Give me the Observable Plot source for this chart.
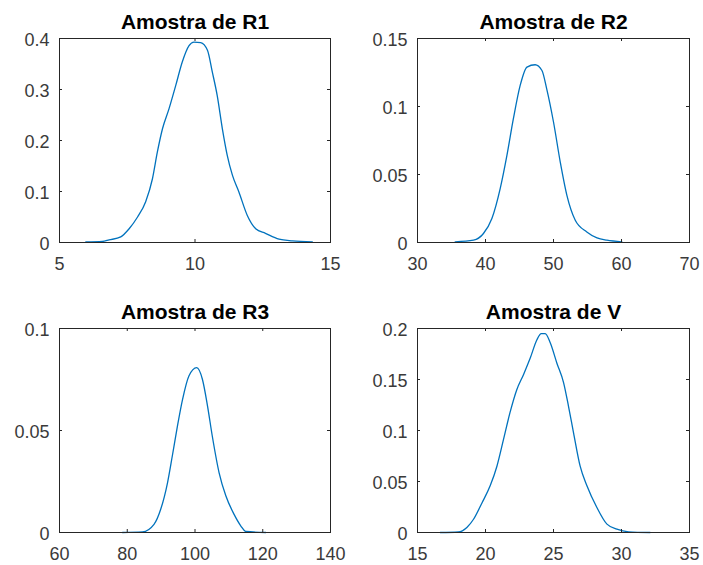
<!DOCTYPE html>
<html>
<head>
<meta charset="utf-8">
<script src="https://cdn.jsdelivr.net/npm/d3@7"></script>
<script src="https://cdn.jsdelivr.net/npm/@observablehq/plot@0.6"></script>
<style>
  html, body { margin: 0; padding: 0; background: #fff; }
  #wrap { position: relative; width: 703px; height: 565px; overflow: hidden; background: #fff; }
  #wrap > svg { position: absolute; }
</style>
</head>
<body>
<div id="wrap"></div>
<script>
// ---- Data ----
const titles = ["Amostra de R1", "Amostra de R2", "Amostra de R3", "Amostra de V"];

const r1X = [5.97, 6.58, 6.83, 7.26, 7.57, 7.88, 8.18, 8.43, 8.61, 8.80, 9.04, 9.29, 9.53, 9.78, 9.96, 10.21, 10.46, 10.64, 10.82, 11.01, 11.19, 11.38, 11.62, 11.93, 12.24, 12.60, 13.10, 13.59, 14.33];
const r1Y = [0.001, 0.002, 0.005, 0.011, 0.027, 0.050, 0.080, 0.125, 0.177, 0.223, 0.262, 0.308, 0.354, 0.386, 0.393, 0.392, 0.377, 0.334, 0.288, 0.223, 0.171, 0.132, 0.099, 0.053, 0.027, 0.018, 0.0065, 0.003, 0.001];

const r2X = [35.54, 38.24, 39.7, 40.94, 42.16, 43.15, 44.1, 45.1, 46.1, 47.3, 48.3, 49.0, 50.0, 51.0, 51.97, 53.2, 54.9, 56.4, 57.85, 60.06];
const r2Y = [0.0005, 0.0017, 0.0066, 0.0176, 0.0396, 0.064, 0.091, 0.1155, 0.129, 0.1307, 0.1265, 0.113, 0.0886, 0.059, 0.0347, 0.0164, 0.0078, 0.0034, 0.0017, 0.0005];

const r3X = [78.6, 84.5, 87.9, 89.9, 91.9, 93.3, 94.8, 96.3, 98.2, 100.5, 102.2, 103.7, 105.1, 107.1, 109.1, 111.5, 113.5, 115.0, 120.9];
const r3Y = [0.0, 0.0003, 0.004, 0.0115, 0.0245, 0.0375, 0.052, 0.065, 0.0767, 0.0808, 0.075, 0.062, 0.0473, 0.0294, 0.018, 0.009, 0.0033, 0.0005, 0.0];

const vX = [16.67, 18.0, 18.63, 19.12, 19.74, 20.35, 20.84, 21.32, 21.8, 22.3, 22.8, 23.29, 23.78, 24.1, 24.39, 24.76, 25.25, 25.74, 26.1, 26.47, 26.96, 27.45, 28.19, 28.93, 29.66, 30.52, 32.1];
const vY = [0.0, 0.0005, 0.005, 0.013, 0.029, 0.046, 0.065, 0.091, 0.1175, 0.140, 0.155, 0.171, 0.189, 0.195, 0.195, 0.186, 0.166, 0.147, 0.124, 0.098, 0.065, 0.046, 0.0245, 0.0082, 0.0033, 0.0007, 0.0];

const r1XTicks = [5, 10, 15];
const r1YTicks = [0, 0.1, 0.2, 0.3, 0.4];
const r2XTicks = [30, 40, 50, 60, 70];
const r2YTicks = [0, 0.05, 0.1, 0.15];
const r3XTicks = [60, 80, 100, 120, 140];
const r3YTicks = [0, 0.05, 0.1];
const vXTicks = [15, 20, 25, 30, 35];
const vYTicks = [0, 0.05, 0.1, 0.15, 0.2];

// ---- Layout (panel boxes in page pixels) ----
const panels = [
  {title: titles[0], xs: r1X, ys: r1Y, xt: r1XTicks, yt: r1YTicks, left: 0,   top: 0,   w: 351, h: 285, fl: 59,  ft: 38,  fr: 330, fb: 242},
  {title: titles[1], xs: r2X, ys: r2Y, xt: r2XTicks, yt: r2YTicks, left: 351, top: 0,   w: 352, h: 285, fl: 417, ft: 38,  fr: 689, fb: 242},
  {title: titles[2], xs: r3X, ys: r3Y, xt: r3XTicks, yt: r3YTicks, left: 0,   top: 285, w: 351, h: 280, fl: 59,  ft: 328, fr: 330, fb: 532},
  {title: titles[3], xs: vX,  ys: vY,  xt: vXTicks,  yt: vYTicks,  left: 351, top: 285, w: 352, h: 280, fl: 417, ft: 328, fr: 689, fb: 532}
];

const ink = "#262626";
const lineColor = "#0072BD";
const tickLen = 3;
const wrap = document.getElementById("wrap");

for (const p of panels) {
  const marginLeft = p.fl - p.left;
  const marginRight = p.left + p.w - p.fr;
  const marginTop = p.ft - p.top;
  const marginBottom = p.top + p.h - p.fb;
  const fw = p.fr - p.fl;
  const fh = p.fb - p.ft;
  const data = p.xs.map((x, i) => ({x, y: p.ys[i]}));
  const chart = Plot.plot({
    width: p.w,
    height: p.h,
    marginLeft, marginRight, marginTop, marginBottom,
    style: {fontFamily: "'Liberation Sans', Arial, Helvetica, sans-serif", fontSize: "18px", color: ink, background: "transparent"},
    x: {domain: [p.xt[0], p.xt[p.xt.length - 1]], axis: null},
    y: {domain: [p.yt[0], p.yt[p.yt.length - 1]], axis: null},
    marks: [
      Plot.line(data, {x: "x", y: "y", stroke: lineColor, strokeWidth: 1.3, curve: "monotone-x"}),
      Plot.frame({stroke: ink, strokeWidth: 1}),
      Plot.tickX(p.xt, {x: d => d, stroke: ink, insetTop: fh - tickLen}),
      Plot.tickX(p.xt, {x: d => d, stroke: ink, insetBottom: fh - tickLen}),
      Plot.tickY(p.yt, {y: d => d, stroke: ink, insetRight: fw - tickLen}),
      Plot.tickY(p.yt, {y: d => d, stroke: ink, insetLeft: fw - tickLen}),
      Plot.axisX(p.xt, {anchor: "bottom", tickSize: 0, tickPadding: 15, tickFormat: d => String(d), label: null, fill: "#3a3a3a"}),
      Plot.axisY(p.yt, {anchor: "left", tickSize: 0, tickPadding: 10, dy: 2, tickFormat: d => String(d), label: null, fill: "#3a3a3a"}),
      Plot.text([p.title], {frameAnchor: "top", dy: -10, lineAnchor: "bottom", text: d => d, fontSize: 21, fontWeight: "bold", fill: "#000"})
    ]
  });
  chart.style.left = p.left + "px";
  chart.style.top = p.top + "px";
  wrap.appendChild(chart);
}
</script>
</body>
</html>
